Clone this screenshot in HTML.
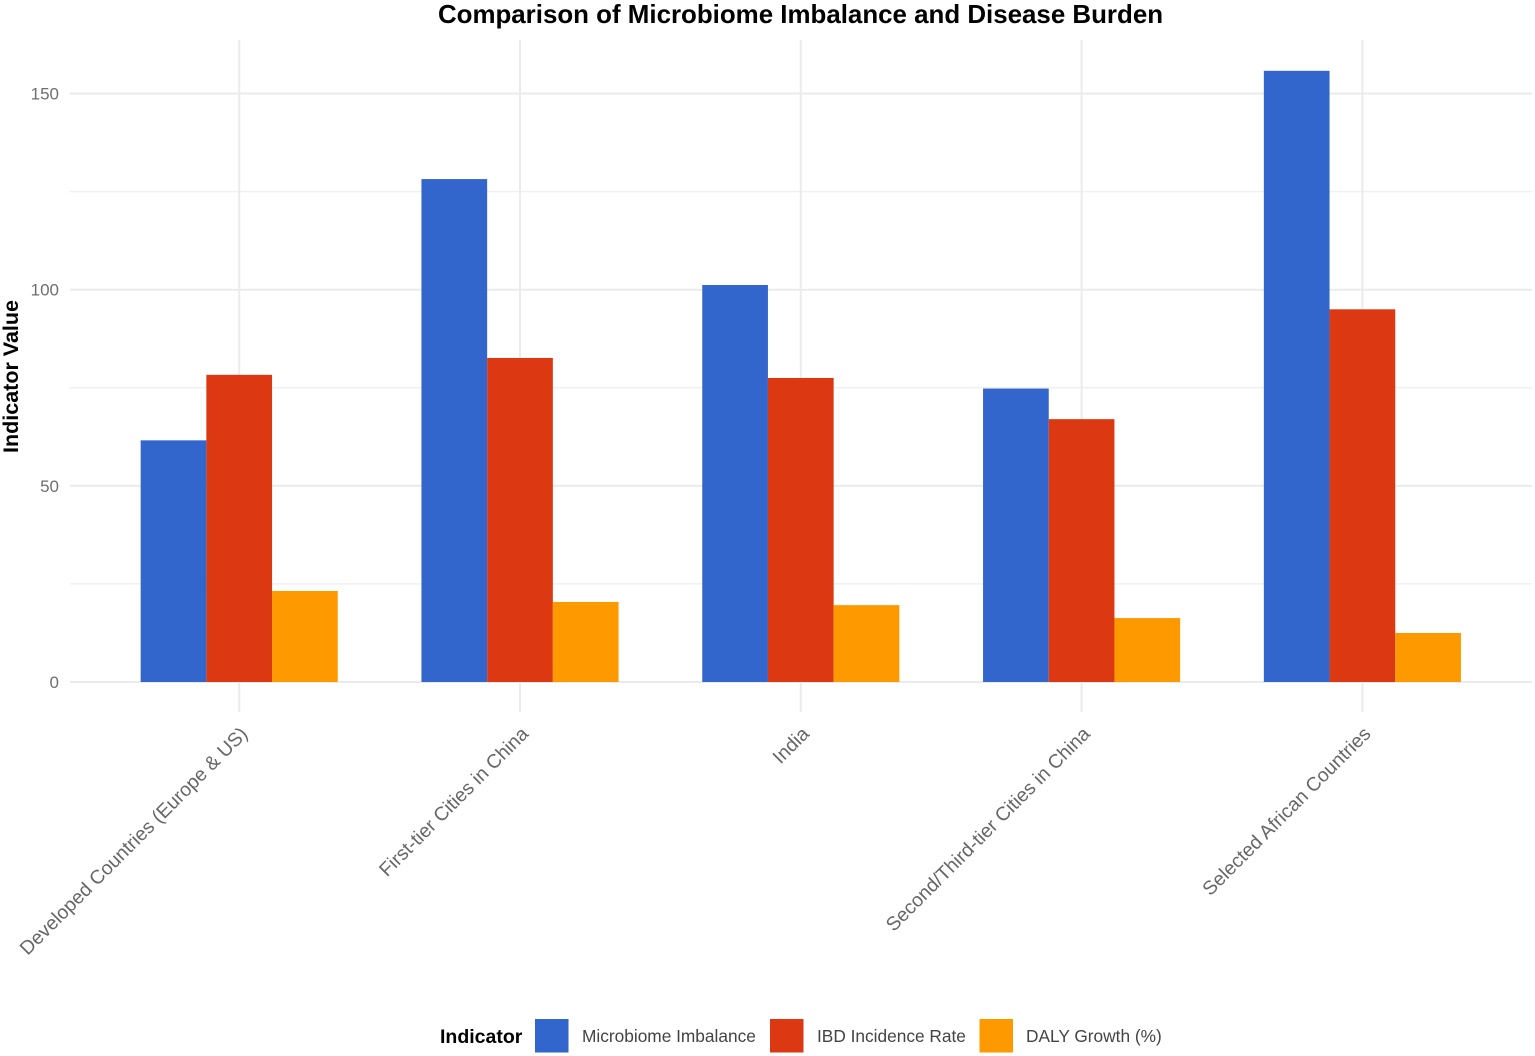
<!DOCTYPE html>
<html>
<head>
<meta charset="utf-8">
<style>
html,body{margin:0;padding:0;background:#fff;width:1535px;height:1056px;overflow:hidden}
svg{display:block;font-family:"Liberation Sans",sans-serif}
</style>
</head>
<body>
<svg id="chart" width="1535" height="1056" viewBox="0 0 1535 1056" xmlns="http://www.w3.org/2000/svg"></svg>
<script>
const categories = ["Developed Countries (Europe & US)", "First-tier Cities in China", "India", "Second/Third-tier Cities in China", "Selected African Countries"];
const seriesNames = ["Microbiome Imbalance", "IBD Incidence Rate", "DALY Growth (%)"];
const microbiomeImbalance = [61.6, 128.2, 101.2, 74.8, 155.8];
const ibdIncidenceRate = [78.3, 82.6, 77.5, 67, 95];
const dalyGrowth = [23.2, 20.4, 19.6, 16.3, 12.5];
const yTickLabels = [0, 50, 100, 150];
const yMinorTicks = [25, 75, 125];

const seriesValues = [microbiomeImbalance, ibdIncidenceRate, dalyGrowth];
const seriesColors = ["#3366cc", "#dc3912", "#ff9900"];
const svg = document.getElementById("chart");
const NS = "http://www.w3.org/2000/svg";
function yScale(v) { return 682 - v * 3.923; }
function xScale(i) { return 239.2 + i * 280.8; }
const barWidth = 65.7;
function make(tag, attrs, text) {
  const el = document.createElementNS(NS, tag);
  for (const k in attrs) el.setAttribute(k, attrs[k]);
  if (text !== undefined) el.textContent = text;
  svg.appendChild(el);
  return el;
}
// horizontal minor gridlines
yMinorTicks.forEach(function (t) {
  const el = make("line", {x1: 70, x2: 1532, y1: yScale(t), y2: yScale(t), stroke: "#f0f0f0", "stroke-width": 1.5});
  
  
});
// horizontal major gridlines and tick labels
yTickLabels.forEach(function (t) {
  const el = make("line", {x1: 70, x2: 1532, y1: yScale(t), y2: yScale(t), stroke: "#ebebeb", "stroke-width": 2});
  
  
  const lab = make("text", {x: 59, y: yScale(t) + 6, "text-anchor": "end", "font-size": 17, fill: "#6e6e6e"}, t);
  
  
});
// vertical gridlines
categories.forEach(function (c, i) {
  const el = make("line", {x1: xScale(i), x2: xScale(i), y1: 40, y2: 712, stroke: "#ebebeb", "stroke-width": 2});
  
  
});
// bars
seriesValues.forEach(function (vals, s) {
  vals.forEach(function (v, i) {
    const r = make("rect", {x: xScale(i) + (s - 1.5) * barWidth, y: yScale(v), width: barWidth, height: yScale(0) - yScale(v), fill: seriesColors[s]});
    
    
  });
});
// category labels
categories.forEach(function (c, i) {
  const px = xScale(i) + 9.5;
  const py = 735;
  const lab = make("text", {x: px, y: py, "text-anchor": "end", "font-size": 19.4, fill: "#666", transform: "rotate(-45 " + px + " " + py + ")"}, c);
  
  
});
// titles
const title = make("text", {x: 800.5, y: 23, "text-anchor": "middle", "font-size": 25.9, "font-weight": "bold", fill: "#000"}, "Comparison of Microbiome Imbalance and Disease Burden");


const yTitle = make("text", {x: 18, y: 376.5, "text-anchor": "middle", "font-size": 21.5, "font-weight": "bold", fill: "#000", transform: "rotate(-90 18 376.5)"}, "Indicator Value");


// legend
const legendTitle = make("text", {x: 440, y: 1043, "font-size": 19.5, "font-weight": "bold", fill: "#000"}, "Indicator");


const legendSwatchX = [535, 770, 979.5];
const legendTextX = [582, 817, 1026];
seriesNames.forEach(function (n, s) {
  const sw = make("rect", {x: legendSwatchX[s], y: 1019, width: 33.5, height: 33.5, fill: seriesColors[s]});
  
  
  const t = make("text", {x: legendTextX[s], y: 1042, "font-size": 17.3, fill: "#444"}, n);
  
  
});
</script>
</body>
</html>
